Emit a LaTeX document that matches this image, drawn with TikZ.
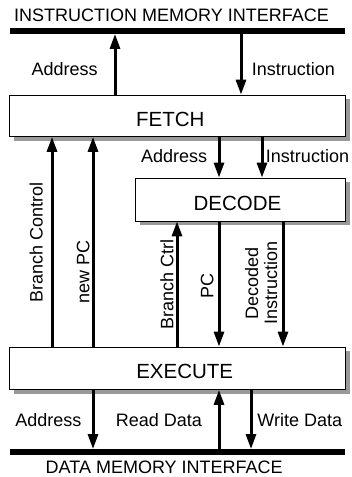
\documentclass[tikz,border=0pt]{standalone}
\usepackage{fontspec}
\setmainfont{Liberation Sans}
\usetikzlibrary{arrows.meta,backgrounds}

\begin{document}
\begin{tikzpicture}[x=1pt,y=-1pt,
  stage/.style={draw=black, line width=0.8pt, fill=white, inner sep=0pt},
  stagename/.style={inner sep=0pt, anchor=base, font=\fontsize{20.5}{22}\selectfont},
  bus/.style={fill=black, inner sep=0pt, minimum width=335.5, minimum height=5.5},
  lbl/.style={inner sep=0pt, anchor=base, font=\fontsize{18}{19}\selectfont},
  vlbl/.style={lbl, rotate=90},
  sig/.style={line width=3pt, -{Triangle[length=15pt,width=10pt]}},
  shade/.style={fill=black!40}
]
\useasboundingbox (0,0) rectangle (352,477);

% memory interfaces
\node[lbl] (imemtitle) at (171.5,21.7) {INSTRUCTION MEMORY INTERFACE};
\node[bus] (ibus) at (177.25,31) {};
\node[bus] (dbus) at (177.25,452) {};
\node[lbl] (dmemtitle) at (164.2,473.3) {DATA MEMORY INTERFACE};

% pipeline stages
\node[stage, minimum width=335.5, minimum height=41.5] (fetch) at (177.25,115.75) {};
\node[stage, minimum width=210, minimum height=43] (decode) at (240,199.5) {};
\node[stage, minimum width=335.5, minimum height=42.5] (exec) at (177.25,368.25) {};
\node[stagename] (fetchname) at (170.3,126) {FETCH};
\node[stagename] (decodename) at (237.5,210) {DECODE};
\node[stagename] (execname) at (184.7,378.3) {EXECUTE};

% drop shadows of the stages
\begin{scope}[on background layer]
  \foreach \s in {fetch,decode,exec}
    \fill[shade] ([shift={(5,4)}]\s.north west) rectangle ([shift={(5,4)}]\s.south east);
\end{scope}

% signal columns
\coordinate (colBC)   at (52,0);
\coordinate (colNPC)  at (93,0);
\coordinate (colIA)   at (115,0);
\coordinate (colBCtl) at (177,0);
\coordinate (colDA)   at (219,0);
\coordinate (colII)   at (241,0);
\coordinate (colWD)   at (251,0);
\coordinate (colDI)   at (262,0);
\coordinate (colDec)  at (283,0);

% instruction memory <-> fetch
\draw[sig] (fetch.north -| colIA) -- (ibus.south -| colIA);
\draw[sig] (ibus.south -| colII) -- (fetch.north -| colII);
\node[lbl] (lblIA) at (64.7,75) {Address};
\node[lbl] (lblII) at (293.3,75) {Instruction};

% fetch -> decode
\draw[sig] (fetch.south -| colDA) -- (decode.north -| colDA);
\draw[sig] (fetch.south -| colDI) -- (decode.north -| colDI);
\node[lbl] (lblDA) at (174.2,162.7) {Address};
\node[lbl] (lblDI) at (307.5,162.7) {Instruction};

% execute -> fetch
\draw[sig] (exec.north -| colBC) -- (fetch.south -| colBC);
\draw[sig] (exec.north -| colNPC) -- (fetch.south -| colNPC);
\node[vlbl] (lblBC) at (42.7,242.5) {Branch Control};
\node[vlbl] (lblNPC) at (89.3,271.7) {new PC};

% decode <-> execute
\draw[sig] (exec.north -| colBCtl) -- (decode.south -| colBCtl);
\draw[sig] (decode.south -| colDA) -- (exec.north -| colDA);
\draw[sig] (decode.south -| colDec) -- (exec.north -| colDec);
\node[vlbl] (lblBCtl) at (173.3,284.2) {Branch Ctrl};
\node[vlbl] (lblPC) at (213.3,285.8) {PC};
\node[lbl, rotate=90, anchor=center, align=center] (lblDec) at (261.2,283) {Decoded\\Instruction};

% execute <-> data memory
\draw[sig] (exec.south -| colNPC) -- (dbus.north -| colNPC);
\draw[sig] (dbus.north -| colDA) -- (exec.south -| colDA);
\draw[sig] (exec.south -| colWD) -- (dbus.north -| colWD);
\node[lbl] (lblMA) at (48.3,426) {Address};
\node[lbl] (lblRD) at (158.8,426) {Read Data};
\node[lbl] (lblWD) at (299.7,426) {Write Data};
\end{tikzpicture}
\end{document}
